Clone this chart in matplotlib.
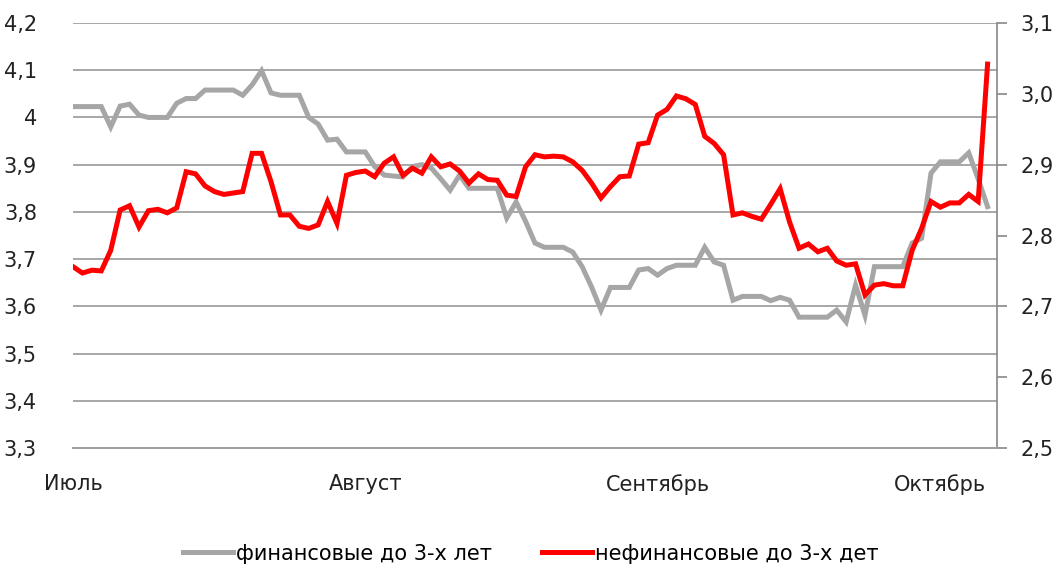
import matplotlib
matplotlib.use('Agg')
import matplotlib.pyplot as plt
from matplotlib.ticker import FuncFormatter
import pandas as pd

plt.rcParams['font.family'] = ['DejaVu Sans']

# daily values, 1 Jul .. 6 Oct
dates = pd.date_range('2014-07-01', '2014-10-06', freq='D')

fin = [4.023, 4.023, 4.023, 4.023, 3.98, 4.024, 4.028, 4.005, 4.0, 4.0,
       4.0, 4.03, 4.04, 4.04, 4.058, 4.058, 4.058, 4.058, 4.047, 4.069,
       4.099, 4.052, 4.047, 4.047, 4.047, 4.0, 3.986, 3.952, 3.954, 3.927,
       3.927, 3.927, 3.896, 3.878, 3.876, 3.874, 3.896, 3.9, 3.893, 3.87,
       3.846, 3.878, 3.85, 3.85, 3.85, 3.85, 3.787, 3.821, 3.78, 3.734,
       3.725, 3.725, 3.725, 3.715, 3.684, 3.641, 3.592, 3.64, 3.64, 3.64,
       3.677, 3.68, 3.666, 3.68, 3.687, 3.687, 3.687, 3.725, 3.694, 3.687,
       3.613, 3.621, 3.621, 3.621, 3.612, 3.619, 3.613, 3.577, 3.577, 3.577,
       3.577, 3.592, 3.567, 3.645, 3.581, 3.684, 3.684, 3.684, 3.684, 3.734,
       3.744, 3.882, 3.906, 3.906, 3.906, 3.925, 3.87, 3.811]

nonfin = [2.756, 2.747, 2.751, 2.75, 2.779, 2.836, 2.842, 2.812, 2.835, 2.837,
          2.832, 2.839, 2.89, 2.887, 2.87, 2.862, 2.858, 2.86, 2.862, 2.916,
          2.916, 2.876, 2.829, 2.829, 2.813, 2.81, 2.815, 2.848, 2.817, 2.885,
          2.889, 2.891, 2.883, 2.902, 2.911, 2.885, 2.895, 2.888, 2.911, 2.897,
          2.901, 2.891, 2.874, 2.887, 2.879, 2.878, 2.857, 2.855, 2.897, 2.914,
          2.911, 2.912, 2.911, 2.904, 2.892, 2.874, 2.853, 2.869, 2.883, 2.884,
          2.929, 2.931, 2.97, 2.978, 2.997, 2.993, 2.985, 2.94, 2.93, 2.914,
          2.829, 2.832, 2.827, 2.823, 2.844, 2.866, 2.819, 2.782, 2.788, 2.777,
          2.782, 2.764, 2.758, 2.76, 2.716, 2.73, 2.732, 2.729, 2.729, 2.779,
          2.81, 2.848, 2.84, 2.846, 2.846, 2.858, 2.848, 3.042]

month_ticks = pd.to_datetime(['2014-07-01', '2014-08-01', '2014-09-01', '2014-10-01'])
month_labels = ['Июль', 'Август', 'Сентябрь', 'Октябрь']

left_ticks = [3.3, 3.4, 3.5, 3.6, 3.7, 3.8, 3.9, 4.0, 4.1, 4.2]
right_ticks = [2.5, 2.6, 2.7, 2.8, 2.9, 3.0, 3.1]

W, H = 1061, 570
fig = plt.figure(figsize=(W / 100, H / 100), dpi=100)
ax = fig.add_axes([73 / W, 1 - 448 / H, (997 - 73) / W, (448 - 23) / H])
ax2 = ax.twinx()

grey = '#a6a6a6'
gridc = '#a0a0a0'
fs = 15

l1, = ax.plot(dates, fin, color=grey, lw=3.6, solid_joinstyle='miter',
              label='финансовые до 3-х лет')
l2, = ax2.plot(dates, nonfin, color='#ff0000', lw=3.6, solid_joinstyle='miter',
               label='нефинансовые до 3-х дет')

ax.set_xlim(pd.Timestamp('2014-07-01'), pd.Timestamp('2014-10-07'))
ax.set_ylim(3.3, 4.2)
ax2.set_ylim(2.5, 3.1)

ax.set_yticks(left_ticks)
ax.yaxis.set_major_formatter(FuncFormatter(lambda v, p: ('%g' % round(v, 1)).replace('.', ',')))
ax2.set_yticks(right_ticks)
ax2.yaxis.set_major_formatter(FuncFormatter(lambda v, p: ('%.1f' % v).replace('.', ',')))

ax.grid(axis='y', color=gridc, lw=1.3)
ax.set_axisbelow(True)

ax.set_xticks(month_ticks)
ax.set_xticklabels(month_labels)
ax.tick_params(axis='x', length=0, pad=19, labelsize=fs, colors='#222222')
ax.tick_params(axis='y', length=0, pad=26, labelsize=fs, colors='#222222')
ax2.tick_params(axis='y', length=7, width=1.2, color='#888888', pad=10,
                labelsize=fs, labelcolor='#222222', direction='out')

for a in (ax, ax2):
    for s in ('top', 'left'):
        a.spines[s].set_visible(False)
    a.spines['bottom'].set_color(gridc)
    a.spines['bottom'].set_linewidth(1.3)
ax.spines['right'].set_visible(False)
ax2.spines['right'].set_color('#888888')
ax2.spines['right'].set_linewidth(1.2)

fig.legend(handles=[l1, l2], loc='lower center', bbox_to_anchor=(0.5, -0.022),
           ncol=2, frameon=False, fontsize=fs, handlelength=2.4,
           handletextpad=0.15, columnspacing=2.4)

fig.savefig('out.png', dpi=100)
